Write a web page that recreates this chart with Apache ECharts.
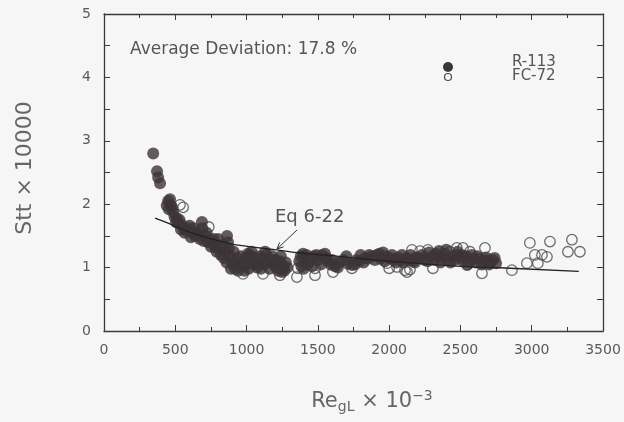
<!DOCTYPE html>
<html>
<head>
<meta charset="utf-8">
<script src="https://cdn.jsdelivr.net/npm/echarts@6/dist/echarts.min.js"></script>
<style>
    html, body { margin: 0; padding: 0; background: #f6f6f6; }
    #chart { width: 624px; height: 422px; }
</style>
</head>
<body>
<div id="chart"></div>
<script>
// R-113 (filled circles): [Re_gL x 10^-3, St_tt x 10000]
var r113 = [
    [345, 2.80], [372, 2.52], [380, 2.42], [393, 2.33],
    [440, 1.98], [450, 2.05], [463, 2.08], [470, 1.98], [455, 1.92], [478, 1.95], [484, 1.88], [495, 1.80],
    [505, 1.72], [512, 1.78], [520, 1.70], [530, 1.75], [547, 1.67], [540, 1.60], [560, 1.62], [565, 1.55],
    [580, 1.58], [590, 1.62], [600, 1.66], [610, 1.48], [620, 1.55], [630, 1.62], [640, 1.50], [652, 1.56],
    [660, 1.52], [673, 1.45], [687, 1.72], [690, 1.62], [700, 1.42], [710, 1.50], [720, 1.55], [729, 1.40],
    [740, 1.45], [750, 1.33], [760, 1.38], [770, 1.45], [780, 1.32], [790, 1.25], [800, 1.45], [813, 1.30],
    [820, 1.20], [834, 1.36], [840, 1.15], [850, 1.25], [860, 1.08], [863, 1.50], [870, 1.40], [875, 1.30],
    [880, 1.20], [890, 0.98], [895, 1.10], [905, 1.05], [910, 1.25], [920, 0.98], [935, 1.15], [940, 0.95],
    [954, 1.08], [960, 1.18], [970, 1.02], [985, 0.95], [990, 1.05], [1000, 1.15], [1010, 1.22], [1015, 0.98],
    [1024, 1.20], [1035, 1.25], [1040, 1.10], [1055, 1.05], [1060, 1.15], [1073, 1.00], [1085, 1.05],
    [1090, 1.18], [1100, 0.98], [1108, 1.15], [1120, 1.05], [1130, 1.25], [1140, 1.20], [1150, 1.08],
    [1160, 0.98], [1170, 1.12], [1180, 1.18], [1190, 1.05], [1200, 1.12], [1210, 1.00], [1220, 0.95],
    [1230, 1.10], [1240, 1.18], [1248, 0.93], [1260, 1.02], [1265, 0.95], [1275, 1.08], [1285, 1.00],
    [1370, 1.10], [1380, 1.18], [1385, 1.02], [1396, 1.22], [1400, 0.98], [1410, 1.15], [1420, 1.20],
    [1430, 1.05], [1445, 1.10], [1460, 1.02], [1470, 1.18], [1490, 1.20], [1500, 1.12], [1520, 1.05],
    [1530, 1.20], [1550, 1.22], [1560, 1.15], [1571, 1.10], [1590, 1.05], [1600, 1.12], [1620, 1.02],
    [1640, 1.00], [1650, 1.08], [1680, 1.12], [1700, 1.18], [1710, 1.06], [1740, 1.04], [1760, 1.05],
    [1770, 1.12], [1790, 1.10], [1800, 1.20], [1820, 1.08], [1830, 1.15], [1851, 1.14], [1860, 1.20],
    [1880, 1.18], [1900, 1.12], [1914, 1.20], [1930, 1.22], [1940, 1.14], [1957, 1.24], [1970, 1.10],
    [1980, 1.18], [2006, 1.15], [2020, 1.20], [2030, 1.12], [2050, 1.08], [2060, 1.16], [2080, 1.12],
    [2090, 1.20], [2100, 1.08], [2120, 1.15], [2140, 1.12], [2150, 1.20], [2167, 1.10], [2180, 1.08],
    [2190, 1.16], [2216, 1.15], [2230, 1.20], [2250, 1.12], [2270, 1.10], [2280, 1.24], [2300, 1.18],
    [2320, 1.12], [2330, 1.22], [2340, 1.18], [2350, 1.26], [2360, 1.08], [2370, 1.15], [2390, 1.22],
    [2400, 1.28], [2410, 1.12], [2430, 1.08], [2440, 1.17], [2460, 1.12], [2470, 1.20], [2480, 1.25],
    [2496, 1.15], [2510, 1.20], [2520, 1.10], [2540, 1.18], [2550, 1.05], [2567, 1.10], [2580, 1.20],
    [2590, 1.14], [2610, 1.08], [2620, 1.18], [2637, 1.14], [2650, 1.05], [2660, 1.10], [2680, 1.16],
    [2690, 1.12], [2700, 1.05], [2710, 1.08], [2728, 1.12], [2740, 1.15], [2750, 1.07]
];
// FC-72 (open circles)
var fc72 = [
    [533, 1.99], [555, 1.95], [735, 1.64],
    [975, 0.90], [1115, 0.90], [1234, 0.88], [1353, 0.85], [1360, 0.99], [1480, 0.88], [1480, 0.99],
    [1606, 0.93], [1606, 1.07], [1739, 0.99], [1985, 1.07], [2000, 0.99], [2055, 1.01], [2111, 0.96],
    [2125, 0.93], [2146, 0.97], [2160, 1.28], [2216, 1.26], [2272, 1.28], [2307, 0.99], [2426, 1.25],
    [2475, 1.31], [2518, 1.31], [2546, 1.04], [2567, 1.25], [2651, 0.91], [2672, 1.31], [2861, 0.96],
    [2966, 1.07], [2987, 1.39], [3022, 1.20], [3043, 1.07], [3072, 1.20], [3107, 1.17], [3128, 1.41],
    [3254, 1.25], [3282, 1.44], [3338, 1.25]
];
// Eq 6-22 correlation curve
var eqLine = [
    [358, 1.78], [450, 1.70], [600, 1.56], [860, 1.39], [1020, 1.33], [1210, 1.28], [1380, 1.23],
    [1680, 1.17], [2000, 1.10], [2500, 1.02], [2850, 0.99], [3330, 0.94]
];

var font = 'DejaVu Sans, sans-serif';
var axisColor = '#3a3a3a';
var labelColor = '#5a5a5a';

(function () {
    let myEchart = echarts.init(document.getElementById('chart'));
    // 四周都有刻度的坐标轴
    function xAx(pos, showLabel) {
        return {
            type: 'value', position: pos, min: 0, max: 3500, interval: 500,
            axisLine: { show: true, onZero: false, lineStyle: { color: axisColor, width: 1.3 } },
            axisTick: { show: true, inside: true, length: 6, lineStyle: { color: axisColor } },
            minorTick: { show: true, splitNumber: 2, length: 4, lineStyle: { color: axisColor } },
            axisLabel: {
                show: showLabel, color: labelColor, fontSize: 14, fontFamily: font, margin: 12,
                formatter: function (v) { return String(v); }
            },
            splitLine: { show: false }
        };
    }
    function yAx(pos, showLabel) {
        return {
            type: 'value', position: pos, min: 0, max: 5, interval: 1,
            axisLine: { show: true, onZero: false, lineStyle: { color: axisColor, width: 1.3 } },
            axisTick: { show: true, inside: true, length: 6, lineStyle: { color: axisColor } },
            minorTick: { show: true, splitNumber: 2, length: 6, lineStyle: { color: axisColor } },
            axisLabel: { show: showLabel, color: labelColor, fontSize: 14, fontFamily: font, margin: 13 },
            splitLine: { show: false }
        };
    }
    let option = {
        backgroundColor: '#f6f6f6',
        animation: false,
        grid: { left: 104, right: 21, top: 14, bottom: 91 },
        xAxis: [xAx('bottom', true), xAx('top', false)],
        yAxis: [yAx('left', true), yAx('right', false)],
        series: [
            {
                name: 'FC-72', type: 'scatter', data: fc72, symbolSize: 10.5, z: 2,
                itemStyle: { color: 'rgba(0,0,0,0)', borderColor: '#4a4a4a', borderWidth: 1.3 }
            },
            {
                name: 'R-113', type: 'scatter', data: r113, symbolSize: 12, z: 3,
                itemStyle: { color: '#3d3537' }
            },
            {
                name: 'Eq 6-22', type: 'line', data: eqLine, smooth: true, symbol: 'none', z: 4,
                lineStyle: { color: '#222', width: 1.3 }
            }
        ],
        graphic: [
            // 轴标题
            {
                type: 'text', x: 25, y: 168, rotation: Math.PI / 2,
                style: { text: 'Stt × 10000', fill: '#666', font: '22px ' + font, textAlign: 'center', textVerticalAlign: 'middle' }
            },
            {
                type: 'text', x: 372, y: 402,
                style: {
                    text: '{a|Re}{b|gL}{a| × 10}{c|−3}',
                    align: 'center', verticalAlign: 'middle',
                    rich: {
                        a: { fontSize: 21, fontFamily: font, fill: '#666' },
                        b: { fontSize: 14, fontFamily: font, fill: '#666', padding: [11, 0, 0, 0] },
                        c: { fontSize: 14, fontFamily: font, fill: '#666', padding: [0, 0, 11, 0] }
                    }
                }
            },
            {
                type: 'text', x: 130, y: 50,
                style: { text: 'Average Deviation: 17.8 %', fill: '#555', font: '17px ' + font, textVerticalAlign: 'middle' }
            },
            // 图例
            { type: 'circle', shape: { cx: 448, cy: 67, r: 5 }, style: { fill: '#3d3537' } },
            { type: 'circle', shape: { cx: 448, cy: 77, r: 3.5 }, style: { fill: 'none', stroke: '#4a4a4a', lineWidth: 1.2 } },
            { type: 'text', x: 512, y: 62, style: { text: 'R-113', fill: '#555', font: '15px ' + font, textVerticalAlign: 'middle' } },
            { type: 'text', x: 512, y: 76, style: { text: 'FC-72', fill: '#555', font: '15px ' + font, textVerticalAlign: 'middle' } },
            // Eq 6-22 标注
            { type: 'text', x: 275, y: 217, style: { text: 'Eq 6-22', fill: '#555', font: '18px ' + font, textVerticalAlign: 'middle' } },
            { type: 'line', shape: { x1: 297, y1: 230, x2: 277, y2: 249 }, style: { stroke: '#333', lineWidth: 1 } },
            { type: 'polyline', shape: { points: [[283.6, 246.8], [277, 249], [279.6, 242.5]] }, style: { stroke: '#333', fill: 'none', lineWidth: 1 } }
        ]
    };
    myEchart.setOption(option);
})();
</script>
</body>
</html>
